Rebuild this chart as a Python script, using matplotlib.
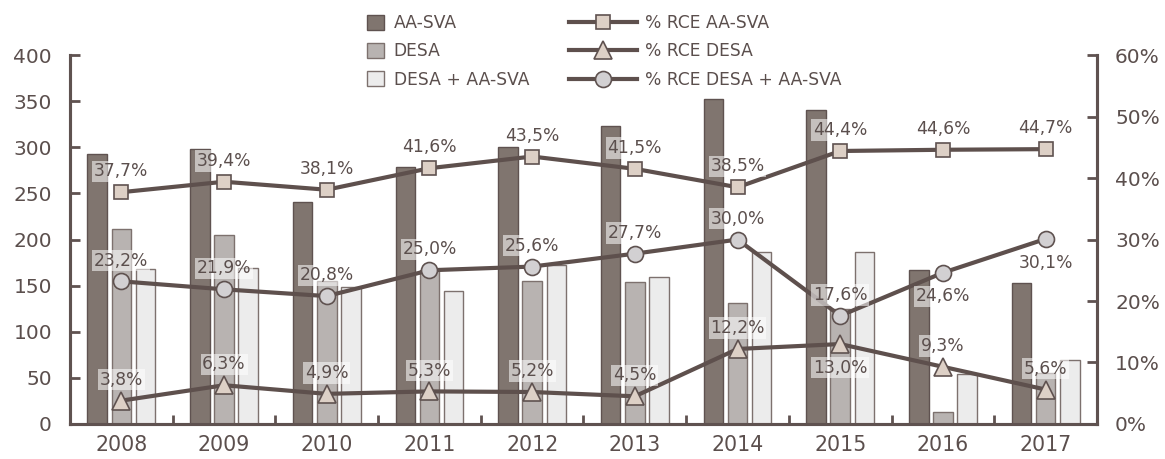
import matplotlib
matplotlib.use("Agg")
import matplotlib.pyplot as plt
import numpy as np
from matplotlib.patches import Patch
from matplotlib.lines import Line2D

years = ["2008", "2009", "2010", "2011", "2012", "2013", "2014", "2015", "2016", "2017"]

# bars (left axis, counts)
aa_sva = [293, 298, 241, 279, 300, 323, 352, 340, 167, 153]
desa = [211, 205, 155, 167, 155, 154, 131, 125, 13, 55]
desa_aa_sva = [168, 169, 149, 144, 172, 159, 187, 187, 54, 69]

# lines (right axis, %)
rce_aa_sva = [37.7, 39.4, 38.1, 41.6, 43.5, 41.5, 38.5, 44.4, 44.6, 44.7]
rce_desa = [3.8, 6.3, 4.9, 5.3, 5.2, 4.5, 12.2, 13.0, 9.3, 5.6]
rce_both = [23.2, 21.9, 20.8, 25.0, 25.6, 27.7, 30.0, 17.6, 24.6, 30.1]

# which labels sit under their marker
below_desa = {"2015"}
below_both = {"2016", "2017"}

TXT = "#5b4f4d"
LINE = "#5e504d"
EDGE = "#5f5250"

plt.rcParams["font.family"] = ["DejaVu Sans"]

fig = plt.figure(figsize=(11.65, 4.59), dpi=100)
ax = fig.add_axes([0.0601, 0.0763, 0.8815, 0.8037])
ax2 = ax.twinx()

x = np.arange(len(years))
w = 0.19
off = 0.235
ax.bar(x - off, aa_sva, w, color="#80756f", edgecolor=EDGE, linewidth=1)
ax.bar(x, desa, w, color="#b8b3b1", edgecolor="#7d716e", linewidth=1)
ax.bar(x + off, desa_aa_sva, w, color="#ececec", edgecolor="#7d716e", linewidth=1)

ax.set_xlim(-0.5, len(years) - 0.5)
ax.set_ylim(0, 400)
ax2.set_ylim(0, 60)
ax.set_yticks(range(0, 401, 50))
ax2.set_yticks(range(0, 61, 10))
ax2.set_yticklabels([f"{v}%" for v in range(0, 61, 10)])

ax.set_xticks(x)
ax.set_xticklabels(years)
ax.set_xticks(np.arange(0.5, len(years) - 1, 1), minor=True)
ax.tick_params(axis="x", which="major", length=0, pad=8, labelsize=14.8, colors=TXT)
ax.tick_params(axis="x", which="minor", direction="in", length=6.5, width=2, color=EDGE)
ax.tick_params(axis="y", direction="in", length=7, width=2, color=EDGE,
               labelsize=14.5, labelcolor=TXT, pad=13)
ax2.tick_params(axis="y", direction="in", length=7, width=2, color=EDGE,
                labelsize=14.5, labelcolor=TXT, pad=13)

for a in (ax, ax2):
    a.spines["top"].set_visible(False)
    for s in ("left", "right", "bottom"):
        a.spines[s].set_color(EDGE)
        a.spines[s].set_linewidth(2.2)

line_kw = dict(color=LINE, linewidth=3, markeredgecolor=EDGE, markeredgewidth=1.2)
ax2.plot(x, rce_aa_sva, marker="s", markersize=10.5, markerfacecolor="#ddd0c6", zorder=3, **line_kw)
ax2.plot(x, rce_desa, marker="^", markersize=12.5, markerfacecolor="#ddd0c6", zorder=3, **line_kw)
ax2.plot(x, rce_both, marker="o", markersize=11.5, markerfacecolor="#d2d0d2", zorder=3, **line_kw)

box = dict(boxstyle="square,pad=0.1", facecolor="white", alpha=0.55, edgecolor="none")


def fmt(v):
    return f"{v:.1f}".replace(".", ",") + "%"


def label_series(vals, below):
    for xi, yr, v in zip(x, years, vals):
        dy = -17 if yr in below else 15
        ax2.annotate(fmt(v), (xi, v), xytext=(0, dy), textcoords="offset points",
                     ha="center", va="center", fontsize=12.3, color=TXT, bbox=box, zorder=4)


label_series(rce_aa_sva, set())
label_series(rce_desa, below_desa)
label_series(rce_both, below_both)

bar_handles = [
    Patch(facecolor="#80756f", edgecolor=EDGE, label="AA-SVA"),
    Patch(facecolor="#b8b3b1", edgecolor="#7d716e", label="DESA"),
    Patch(facecolor="#ececec", edgecolor="#7d716e", label="DESA + AA-SVA"),
]
line_handles = [
    Line2D([], [], marker="s", markersize=10.5, markerfacecolor="#ddd0c6", label="% RCE AA-SVA", **line_kw),
    Line2D([], [], marker="^", markersize=12.5, markerfacecolor="#ddd0c6", label="% RCE DESA", **line_kw),
    Line2D([], [], marker="o", markersize=11.5, markerfacecolor="#d2d0d2", label="% RCE DESA + AA-SVA", **line_kw),
]
leg_kw = dict(loc="upper left", frameon=False, fontsize=12.3, borderpad=0,
              labelspacing=0.6, labelcolor=TXT)
fig.legend(handles=bar_handles, bbox_to_anchor=(0.308, 0.988), handlelength=0.95,
           handleheight=0.95, handletextpad=0.6, **leg_kw)
fig.legend(handles=line_handles, bbox_to_anchor=(0.481, 0.988), handlelength=4.0,
           handletextpad=0.45, **leg_kw)

fig.savefig("out.png", dpi=100, facecolor="white")
